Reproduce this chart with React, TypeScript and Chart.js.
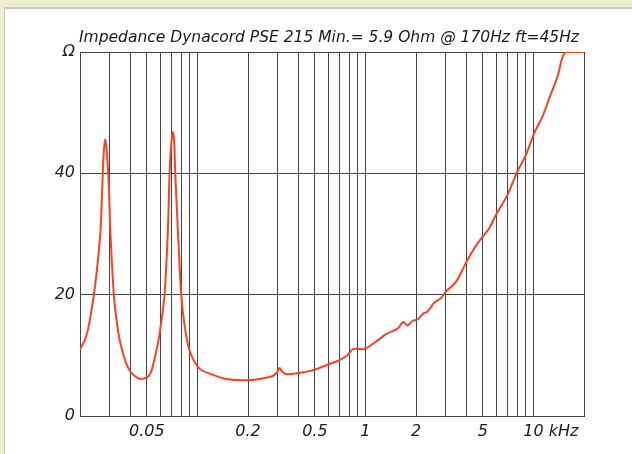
import React, { useEffect, useRef } from "react";
import { Chart, registerables } from "chart.js";

Chart.register(...registerables);

const TITLE = "Impedance Dynacord PSE 215 Min.= 5.9 Ohm @ 170Hz ft=45Hz";

const freqKHz = [
  0.020, 0.0212, 0.0223, 0.0239, 0.0252, 0.0265, 0.0272, 0.0277, 0.0283, 0.0289,
  0.0297, 0.0303, 0.0318, 0.0335, 0.0352, 0.0375, 0.040, 0.0433, 0.0463, 0.0519,
  0.0562, 0.0595, 0.0637, 0.0667, 0.0683, 0.0700, 0.0714, 0.0727, 0.0738, 0.0765,
  0.0801, 0.0838, 0.0898, 0.1029, 0.1235, 0.148, 0.195, 0.234, 0.281, 0.297,
  0.308, 0.320, 0.337, 0.405, 0.464, 0.508, 0.61, 0.70, 0.784, 0.839,
  0.899, 0.962, 1.008, 1.156, 1.326, 1.554, 1.68, 1.78, 1.909, 2.04,
  2.21, 2.34, 2.57, 2.81, 3.01, 3.46, 3.96, 4.44, 4.97, 5.45,
  5.97, 7.0, 7.93, 9.01, 10.1, 11.3, 12.4, 13.9, 15.5, 20,
];

const impedanceOhm = [
  11.0, 12.3, 14.2, 19.0, 24.0, 30.6, 38.5, 43.5, 45.6, 43.5,
  38.0, 30.6, 20, 14.5, 11.4, 8.8, 7.3, 6.4, 6.1, 6.75,
  10.0, 13.5, 20, 30.6, 40, 45.2, 46.8, 45.2, 40, 30.6,
  20, 15.0, 10.8, 7.8, 6.8, 6.1, 5.9, 6.1, 6.6, 7.2,
  7.9, 7.3, 6.9, 7.1, 7.4, 7.7, 8.57, 9.2, 10.05, 11.0,
  11.1, 11.0, 11.15, 12.25, 13.5, 14.4, 15.5, 14.9, 15.7, 15.9,
  16.9, 17.2, 18.7, 19.4, 20.5, 22.1, 25.2, 27.6, 29.5, 30.9,
  33.1, 36.4, 40.0, 43.0, 46.6, 49.3, 52.3, 55.9, 60, 60,
];

const xGridValues = [
  0.02, 0.03, 0.04, 0.05, 0.06, 0.07, 0.08, 0.09, 0.1,
  0.2, 0.3, 0.4, 0.5, 0.6, 0.7, 0.8, 0.9, 1,
  2, 3, 4, 5, 6, 7, 8, 9, 10, 20,
];
const xLabelValues = [0.05, 0.2, 0.5, 1, 2, 5, 10];
const xLabelTexts = ["0.05", "0.2", "0.5", "1", "2", "5", "10"];
const X_UNIT = "kHz";

const yTickValues = [0, 20, 40, 60];
const yTickLabels = ["0", "20", "40", "Ω"];

const FONT_FAMILY = '"DejaVu Sans", sans-serif';
const TICK_FONT_SIZE = 16;
const TITLE_FONT_SIZE = 15.5;
const TICK_PADDING_X = 6;

function xLabelFor(v: number): string {
  for (let i = 0; i < xLabelValues.length; i++) {
    if (Math.abs(xLabelValues[i] - v) / xLabelValues[i] < 1e-6) return xLabelTexts[i];
  }
  return "";
}

function yLabelFor(v: number): string {
  const i = yTickValues.indexOf(v);
  return i >= 0 ? yTickLabels[i] : "";
}

const overlayPlugin = {
  id: "overlay",
  afterDraw(chart: any) {
    const { ctx, chartArea, scales } = chart;
    ctx.save();
    ctx.fillStyle = "#1a1a1a";
    ctx.font = `italic ${TITLE_FONT_SIZE}px ${FONT_FAMILY}`;
    ctx.textAlign = "center";
    ctx.textBaseline = "middle";
    ctx.fillText(TITLE, (chartArea.left + chartArea.right) / 2 - 3, chartArea.top - 14);

    ctx.font = `italic ${TICK_FONT_SIZE}px ${FONT_FAMILY}`;
    const xs = scales.x;
    const lastVal = xLabelValues[xLabelValues.length - 1];
    const lastTxt = xLabelTexts[xLabelTexts.length - 1];
    const px = xs.getPixelForValue(lastVal);
    const w = ctx.measureText(lastTxt).width;
    ctx.textAlign = "left";
    ctx.fillText(" " + X_UNIT, px + w / 2, chartArea.bottom + TICK_PADDING_X + (TICK_FONT_SIZE * 1.2) / 2);
    ctx.restore();
  },
};

export default function App() {
  const canvasRef = useRef<HTMLCanvasElement | null>(null);

  useEffect(() => {
    const canvas = canvasRef.current;
    if (!canvas) return;
    const points = freqKHz.map((f, i) => ({ x: f, y: impedanceOhm[i] }));
    const gridColor = "#444444";
    const chart = new Chart(canvas, {
      type: "line",
      data: {
        datasets: [
          {
            data: points,
            borderColor: "rgb(255,64,32)",
            borderWidth: 2,
            pointRadius: 0,
            fill: false,
            tension: 0.3,
          },
        ],
      },
      options: {
        responsive: false,
        animation: false,
        devicePixelRatio: 1,
        layout: { padding: { left: 0, right: 48, top: 52, bottom: 0 } },
        plugins: {
          legend: { display: false },
          title: { display: false },
          tooltip: { enabled: false },
        },
        scales: {
          x: {
            type: "logarithmic",
            min: 0.02,
            max: 20,
            afterBuildTicks: (scale: any) => {
              scale.ticks = xGridValues.map((v) => ({ value: v }));
            },
            afterFit: (scale: any) => {
              scale.height = 38;
            },
            ticks: {
              autoSkip: false,
              maxRotation: 0,
              minRotation: 0,
              padding: TICK_PADDING_X,
              color: "#1a1a1a",
              font: { family: FONT_FAMILY, size: TICK_FONT_SIZE, style: "italic" },
              callback: (v: any) => xLabelFor(Number(v)),
            },
            grid: { color: gridColor, lineWidth: 1, drawTicks: false },
            border: { color: gridColor, width: 1 },
          },
          y: {
            type: "linear",
            min: 0,
            max: 60,
            afterBuildTicks: (scale: any) => {
              scale.ticks = yTickValues.map((v) => ({ value: v }));
            },
            afterFit: (scale: any) => {
              scale.width = 80;
            },
            ticks: {
              autoSkip: false,
              padding: 5,
              color: "#1a1a1a",
              font: { family: FONT_FAMILY, size: TICK_FONT_SIZE, style: "italic" },
              callback: (v: any) => yLabelFor(Number(v)),
            },
            grid: { color: gridColor, lineWidth: 1, drawTicks: false },
            border: { color: gridColor, width: 1 },
          },
        },
      },
      plugins: [overlayPlugin],
    } as any);
    return () => chart.destroy();
  }, []);

  return (
    <div style={{ position: "fixed", left: 0, top: 0, width: 632, height: 454, background: "rgb(238,238,206)", overflow: "hidden" }}>
      <div
        style={{
          position: "absolute",
          left: 4,
          top: 7,
          right: -4,
          bottom: -4,
          background: "#ffffff",
          borderTop: "2px solid #c8c8c8",
          borderLeft: "1px solid #c8c8c8",
        }}
      />
      <canvas ref={canvasRef} width={632} height={454} style={{ position: "absolute", left: 0, top: 0, width: 632, height: 454 }} />
    </div>
  );
}
